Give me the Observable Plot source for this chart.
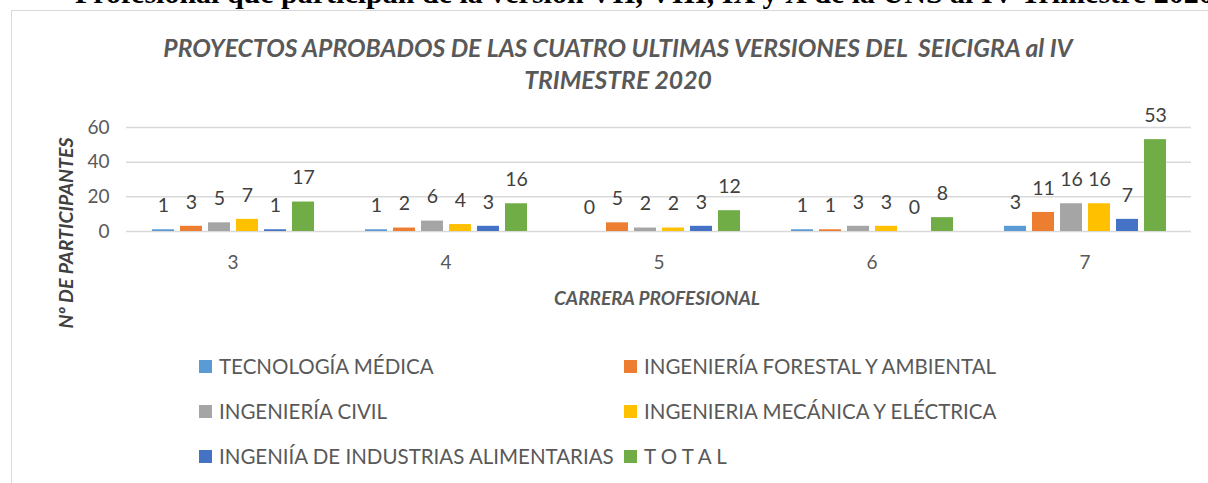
<!DOCTYPE html>
<html>
<head>
<meta charset="utf-8">
<script src="https://cdn.jsdelivr.net/npm/d3@7"></script>
<script src="https://cdn.jsdelivr.net/npm/@observablehq/plot@0.6"></script>
<style>
  html, body { margin: 0; padding: 0; background: #fff; }
  body { width: 1208px; height: 483px; position: relative; overflow: hidden; font-family: Lato, "Open Sans", sans-serif; }
  #caption { position: absolute; left: 75px; top: -22px; font-family: "Liberation Serif", "Times New Roman", serif; font-weight: bold; font-size: 30px; color: #000; white-space: nowrap; line-height: 30px; }
  #frame { position: absolute; left: 11px; top: 10px; width: 1300px; height: 600px; border: 1px solid #d9d9d9; box-sizing: border-box; background: #fff; }
  #title { position: absolute; left: 0; width: 1236px; top: 32px; text-align: center; font-weight: bold; font-style: italic; font-size: 24.7px; line-height: 32px; color: #595959; }
  #chart { position: absolute; left: 0; top: 100px; }
  #xlabel { position: absolute; left: 507px; width: 300px; top: 286px; text-align: center; font-weight: bold; font-style: italic; font-size: 19px; color: #595959; white-space: nowrap; }
  #ylabel { position: absolute; left: 65px; top: 233px; transform: translate(-50%, -50%) rotate(-90deg); font-weight: bold; font-style: italic; font-size: 19.5px; color: #404040; white-space: nowrap; }
  .leg { position: absolute; display: flex; align-items: center; font-size: 20.5px; color: #595959; white-space: nowrap; }
  .sw { width: 13px; height: 13px; margin-right: 7px; flex: none; }
</style>
</head>
<body>
<div id="caption">Profesional que participan de la versión VII, VIII, IX y X de la UNS al IV Trimestre 2020</div>
<div id="frame"></div>
<div id="title">PROYECTOS APROBADOS DE LAS CUATRO ULTIMAS VERSIONES DEL&nbsp; SEICIGRA al IV<br>TRIMESTRE 2020</div>
<div id="chart"></div>
<div id="xlabel">CARRERA PROFESIONAL</div>
<div id="ylabel">Nº DE PARTICIPANTES</div>
<div id="legend"></div>
<script>
const categories = ["3", "4", "5", "6", "7"];
const seriesNames = [
  "TECNOLOGÍA MÉDICA",
  "INGENIERÍA FORESTAL Y AMBIENTAL",
  "INGENIERÍA CIVIL",
  "INGENIERIA MECÁNICA Y ELÉCTRICA",
  "INGENIÍA DE INDUSTRIAS ALIMENTARIAS",
  "T O T A L"
];
const seriesColors = ["#5B9BD5", "#ED7D31", "#A5A5A5", "#FFC000", "#4472C4", "#70AD47"];
const tecnologiaMedica   = [1, 1, 0, 1, 3];
const forestalAmbiental  = [3, 2, 5, 1, 11];
const civil              = [5, 6, 2, 3, 16];
const mecanicaElectrica  = [7, 4, 2, 3, 16];
const industriasAlim     = [1, 3, 3, 0, 7];
const total              = [17, 16, 12, 8, 53];
const yTicks = [0, 20, 40, 60];

const seriesValues = [tecnologiaMedica, forestalAmbiental, civil, mecanicaElectrica, industriasAlim, total];
const data = [];
categories.forEach((c, i) => {
  seriesNames.forEach((s, j) => data.push({cat: c, series: s, value: seriesValues[j][i]}));
});

const chart = Plot.plot({
  width: 1208,
  height: 211,
  marginTop: 27,
  marginBottom: 80,
  marginLeft: 125,
  marginRight: 16,
  style: {fontFamily: "Lato, 'Open Sans', sans-serif", fontSize: "19px", color: "#595959", background: "transparent", overflow: "visible"},
  fx: {domain: categories, padding: 0, label: null, tickSize: 0, tickPadding: 24},
  x: {domain: seriesNames, paddingInner: 0.23, paddingOuter: 0.845, axis: null},
  y: {domain: [0, 60], ticks: yTicks, tickSize: 0, tickPadding: 17, label: null},
  color: {domain: seriesNames, range: seriesColors},
  marks: [
    Plot.ruleY(yTicks, {stroke: "#d9d9d9", strokeWidth: 1.5}),
    Plot.barY(data, {fx: "cat", x: "series", y: "value", fill: "series"}),
    Plot.text(data, {fx: "cat", x: "series", y: "value", text: d => String(d.value), dy: -24, lineAnchor: "middle", fill: "#404040", fontSize: 19.5})
  ]
});
document.getElementById("chart").appendChild(chart);

const legend = document.getElementById("legend");
const cols = [199, 624];
const rows = [366, 411, 456];
seriesNames.forEach((s, i) => {
  const el = document.createElement("div");
  el.className = "leg";
  el.style.left = cols[i % 2] + "px";
  el.style.top = (rows[Math.floor(i / 2)] - 12) + "px";
  el.style.height = "24px";
  const sw = document.createElement("span");
  sw.className = "sw";
  sw.style.background = seriesColors[i];
  el.appendChild(sw);
  el.appendChild(document.createTextNode(s));
  legend.appendChild(el);
});
</script>
</body>
</html>
